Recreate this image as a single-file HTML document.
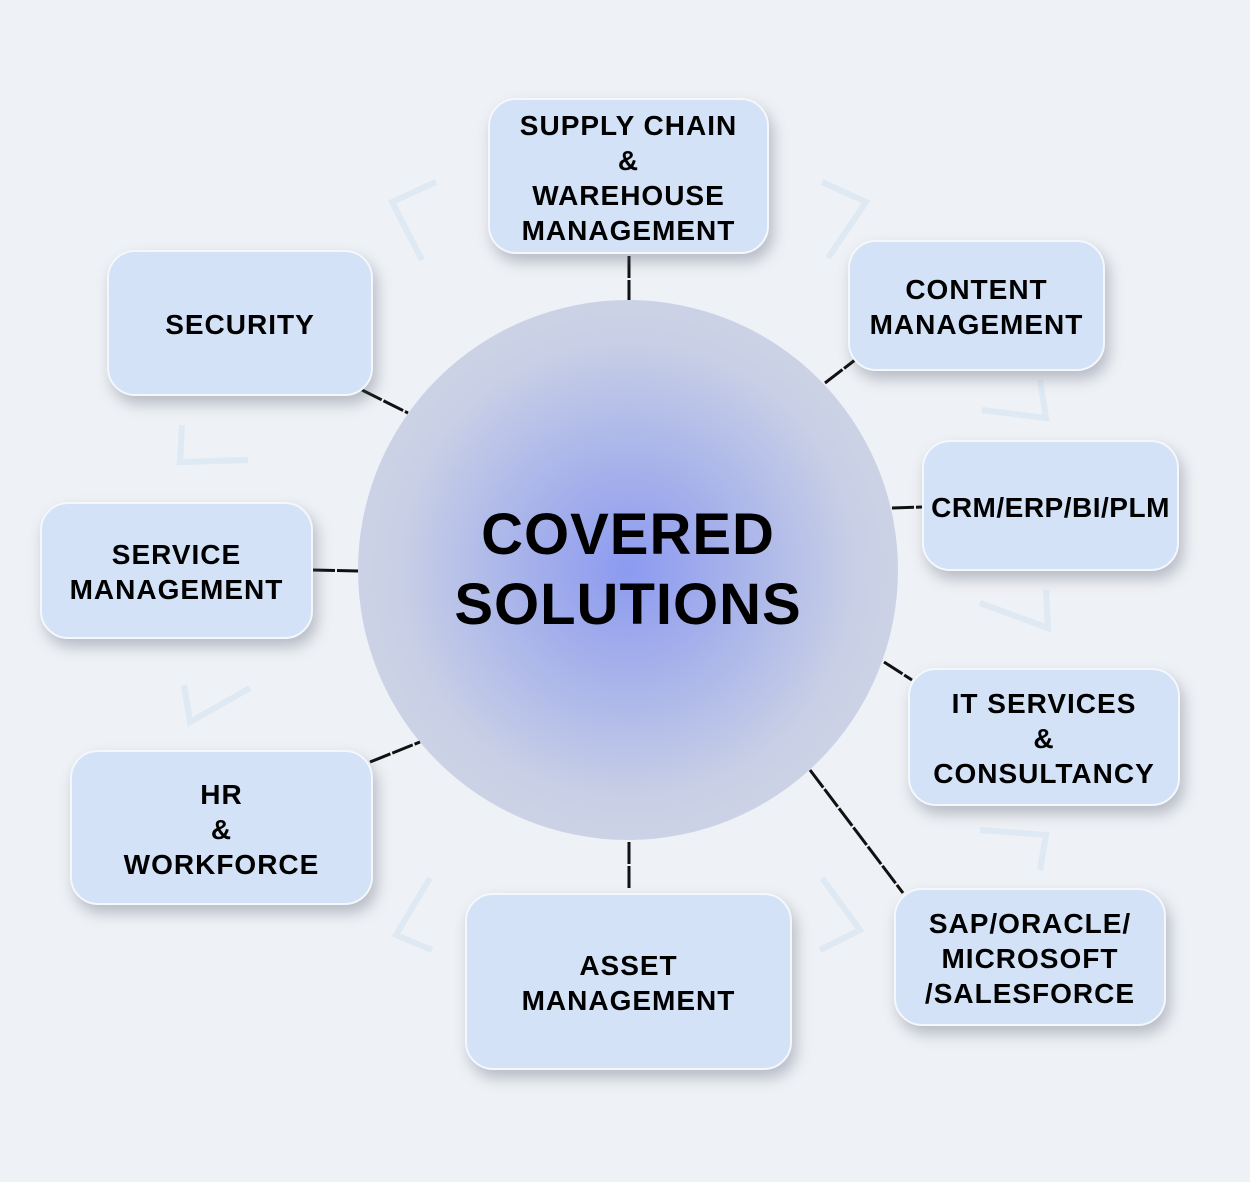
<!DOCTYPE html>
<html><head><meta charset="utf-8"><style>
html,body{margin:0;padding:0}
body{width:1250px;height:1182px;position:relative;overflow:hidden;background:#eef1f5;font-family:"Liberation Sans",Arial,sans-serif}
.box{position:absolute;box-sizing:border-box;background:#d3e2f6;border:2px solid #f4f8fd;border-radius:28px;box-shadow:4px 8px 14px rgba(80,90,110,0.35);display:flex;align-items:center;justify-content:center;text-align:center;font-weight:bold;font-size:28px;letter-spacing:1px;line-height:35px;color:#000;padding-top:3px}
.circle{position:absolute;left:358px;top:300px;width:540px;height:540px;border-radius:50%;background:radial-gradient(circle at 50% 50%,#8c9af0 0%,#a9b4ea 30%,#c8cfe6 60%,#d8dde7 100%)}
.title{position:absolute;left:358px;top:500px;width:540px;text-align:center;font-weight:bold;font-size:58px;line-height:70px;letter-spacing:1px}
svg{position:absolute;left:0;top:0}
</style></head><body>
<svg width="1250" height="1182">
<g stroke="#d7e6f2" stroke-width="6" fill="none" opacity="0.7">
<polyline points="436,182 392,202 422,260"/>
<polyline points="822,182 866,202 828,258"/>
<polyline points="182,425 180,462 248,460"/>
<polyline points="184,685 190,722 250,688"/>
<polyline points="430,878 396,935 432,950"/>
<polyline points="822,878 860,930 820,950"/>
<polyline points="1040,380 1046,418 982,410"/>
<polyline points="1046,590 1048,628 980,603"/>
<polyline points="980,830 1046,835 1040,870"/>
</g>
</svg>
<div class="circle"></div>
<div class="title">COVERED<br>SOLUTIONS</div>
<svg width="1250" height="1182">
<g stroke="#111" stroke-width="3" fill="none" stroke-dasharray="22 2">
<line x1="629" y1="256" x2="629" y2="300"/>
<line x1="825" y1="383" x2="855" y2="360"/>
<line x1="892" y1="508" x2="922" y2="507"/>
<line x1="884" y1="662" x2="912" y2="680"/>
<line x1="810" y1="770" x2="903" y2="893"/>
<line x1="629" y1="842" x2="629" y2="890"/>
<line x1="370" y1="762" x2="420" y2="742"/>
<line x1="313" y1="570" x2="358" y2="571"/>
<line x1="362" y1="390" x2="408" y2="413"/>
</g>
</svg>
<div class="box" style="left:488px;top:98px;width:281px;height:156px">SUPPLY CHAIN<br>&amp;<br>WAREHOUSE<br>MANAGEMENT</div>
<div class="box" style="left:848px;top:240px;width:257px;height:131px">CONTENT<br>MANAGEMENT</div>
<div class="box" style="left:922px;top:440px;width:257px;height:131px;letter-spacing:0.5px">CRM/ERP/BI/PLM</div>
<div class="box" style="left:908px;top:668px;width:272px;height:138px">IT SERVICES<br>&amp;<br>CONSULTANCY</div>
<div class="box" style="left:894px;top:888px;width:272px;height:138px">SAP/ORACLE/<br>MICROSOFT<br>/SALESFORCE</div>
<div class="box" style="left:465px;top:893px;width:327px;height:177px">ASSET<br>MANAGEMENT</div>
<div class="box" style="left:70px;top:750px;width:303px;height:155px">HR<br>&amp;<br>WORKFORCE</div>
<div class="box" style="left:40px;top:502px;width:273px;height:137px">SERVICE<br>MANAGEMENT</div>
<div class="box" style="left:107px;top:250px;width:266px;height:146px">SECURITY</div>
</body></html>
